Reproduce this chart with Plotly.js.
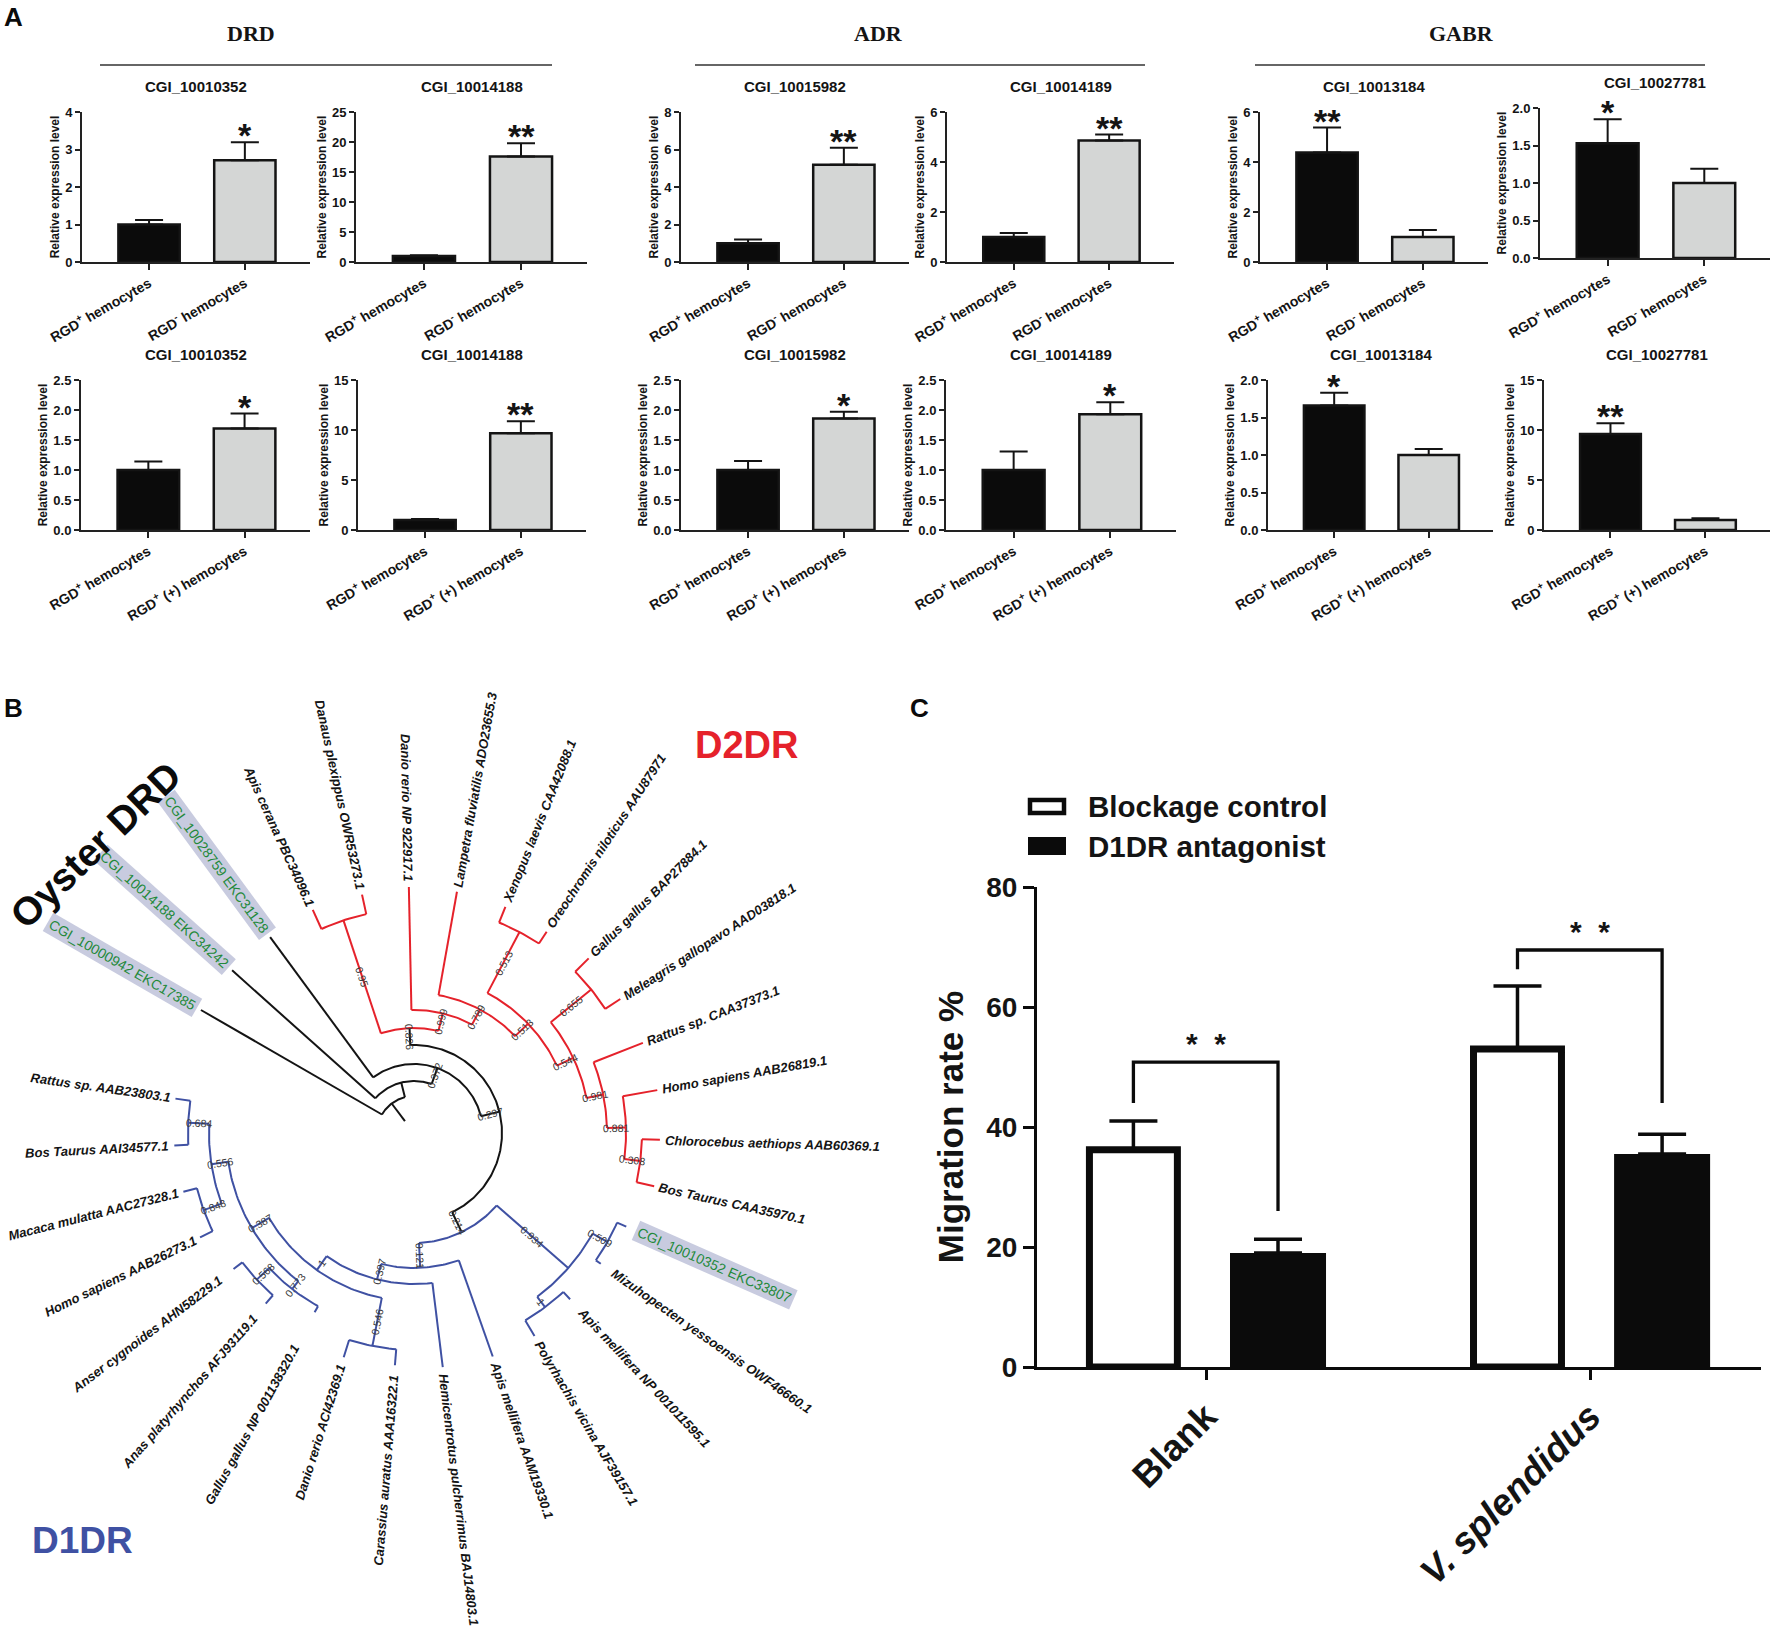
<!DOCTYPE html>
<html>
<head>
<meta charset="utf-8">
<script src="https://cdn.plot.ly/plotly-3.0.1.min.js"></script>
<style>html,body{margin:0;padding:0;background:#fff;}</style>
</head>
<body>
<div id="chart" style="width:1772px;height:1641px"></div>
<script>
// ======================= DATA =======================
// ---- Panel A ----
const receptorGroups = ['DRD', 'ADR', 'GABR'];
const geneIds = ['CGI_10010352', 'CGI_10014188', 'CGI_10015982', 'CGI_10014189', 'CGI_10013184', 'CGI_10027781'];
const yAxisLabel = 'Relative expression level';
const row1Categories = ['RGD<sup>+</sup> hemocytes', 'RGD<sup>-</sup> hemocytes'];
const row2Categories = ['RGD<sup>+</sup> hemocytes', 'RGD<sup>+</sup> (+) hemocytes'];
const row1Means  = [[1.0, 2.71], [1.0, 17.6], [1.0, 5.18], [1.0, 4.86], [4.38, 1.0], [1.53, 1.0]];
const row1Errors = [[0.12, 0.48], [0.12, 2.2], [0.2, 0.92], [0.16, 0.24], [1.0, 0.28], [0.32, 0.19]];
const row1Stars  = [['', '*'], ['', '**'], ['', '**'], ['', '**'], ['**', ''], ['*', '']];
const row1YMax   = [4, 25, 8, 6, 6, 2.0];
const row1YStep  = [1, 5, 2, 2, 2, 0.5];
const row2Means  = [[1.0, 1.69], [1.0, 9.67], [1.0, 1.86], [1.0, 1.93], [1.66, 1.0], [9.6, 1.0]];
const row2Errors = [[0.14, 0.25], [0.1, 1.2], [0.15, 0.11], [0.31, 0.2], [0.17, 0.08], [1.07, 0.17]];
const row2Stars  = [['', '*'], ['', '**'], ['', '*'], ['', '*'], ['*', ''], ['**', '']];
const row2YMax   = [2.5, 15, 2.5, 2.5, 2.0, 15];
const row2YStep  = [0.5, 5, 0.5, 0.5, 0.5, 5];

// ---- Panel C ----
const migrationCategories = ['Blank', '<i>V. splendidus</i>'];
const seriesNames = ['Blockage control', 'D1DR antagonist'];
const controlMeans = [36.2, 53.0];
const controlErrors = [4.8, 10.5];
const antagonistMeans = [19.0, 35.5];
const antagonistErrors = [2.3, 3.3];
const sigLabels = ['*\u00a0\u00a0*', '*\u00a0\u00a0*'];
const sigBracketTop = [50.8, 69.5];
const sigLeftEnd = [44.0, 66.3];
const sigRightEnd = [26.0, 44.0];
const migrationTitle = 'Migration rate %';

// ---- Panel B (tree) ----
const nodeIds      = ['root','n1','n372','n297','n826','n95','n999','n789','n513b','n513a','n544','n655','n981','n881','n308',
                      'n214','n121','n397','nV1','n546','n387','n556','n684','n848','n773','n568','n934','n509','nI1'];
const nodeParents  = [null,'root','n1','n372','n297','n826','n826','n999','n789','n513b','n513b','n544','n544','n981','n881',
                      'n297','n214','n121','n397','nV1','nV1','n387','n556','n556','n387','n773','n214','n934','n934'];
const nodeRadius   = [37,52,69,88,105,224,123,140,158,227,176,228,193,212,228,
                      110,135,151,168,217,188,205,226,224,198,215,205,222,218];
const nodeSupport  = ['','','0.372','0.297','0.826','0.95','0.999','0.789','0.513','0.513','0.544','0.655','0.981','0.881','0.308',
                      '0.214','0.121','0.397','1','0.546','0.387','0.556','0.684','0.848','0.773','0.568','0.934','0.509','1'];
const nodeClade    = ['oyster','oyster','oyster','oyster',
                      'D2DR','D2DR','D2DR','D2DR','D2DR','D2DR','D2DR','D2DR','D2DR','D2DR','D2DR',
                      'D1DR','D1DR','D1DR','D1DR','D1DR','D1DR','D1DR','D1DR','D1DR','D1DR','D1DR','D1DR','D1DR','D1DR'];
const rootStubStart = 15;
const leafNames = ['CGI_10000942 EKC17385','CGI_10014188 EKC34242','CGI_10028759 EKC31128',
  'Apis cerana PBC34096.1','Danaus plexippus OWR53273.1','Danio rerio NP 922917.1','Lampetra fluviatilis ADO23655.3',
  'Xenopus laevis CAA42088.1','Oreochromis niloticus AAU87971','Gallus gallus BAP27884.1','Meleagris gallopavo AAD03818.1',
  'Rattus sp. CAA37373.1','Homo sapiens AAB26819.1','Chlorocebus aethiops AAB60369.1','Bos Taurus CAA35970.1',
  'CGI_10010352 EKC33807','Mizuhopecten yessoensis OWF46660.1','Apis mellifera NP 001011595.1','Polyrhachis vicina AJF39157.1',
  'Apis mellifera AAM19330.1','Hemicentrotus pulcherrimus BAJ14803.1','Carassius auratus AAA16322.1','Danio rerio ACI42369.1',
  'Gallus gallus NP 001138320.1','Anas platyrhynchos AFJ93119.1','Anser cygnoides AHN58229.1','Homo sapiens AAB26273.1',
  'Macaca mulatta AAC27328.1','Bos Taurus AAI34577.1','Rattus sp. AAB23803.1'];
const leafAngles = [150.0,138.2,126.3, 114.4,102.3,91.2,79.9,68.0,56.6,45.0,33.0,21.5,10.0,-1.6,-12.5,
  -23.8,-35.0,-46.8,-59.3,-70.6,-83.0,-94.7,-107.4,-119.0,-131.0,-143.0,-154.0,-165.7,-177.0,-188.2];
const leafTipRadius = [246,244,243, 245,244,246,245,244,241,247,246,246,247,246,246,
  232,228,228,236,237,236,233,235,205,226,226,238,238,240,241];
const leafParents = ['root','n1','n372', 'n95','n95','n999','n789','n513a','n513a','n655','n655','n981','n881','n308','n308',
  'n509','n509','nI1','nI1','n121','n397','n546','n546','n773','n568','n568','n848','n848','n684','n684'];
const leafHighlight = [1,1,1, 0,0,0,0,0,0,0,0,0,0,0,0, 1,0,0,0,0,0,0,0,0,0,0,0,0,0,0];
const cladeLabels = ['Oyster DRD', 'D2DR', 'D1DR'];

// ======================= STYLE / LAYOUT CONSTANTS =======================
const W = 1772, H = 1641;
const SANS = '"Liberation Sans", Arial, Helvetica, sans-serif';
const SERIF = '"Liberation Serif", "Times New Roman", serif';
const INK = '#141414';
const cladeColor = {oyster: '#141414', D2DR: '#e5222b', D1DR: '#3f51a3'};
const px = v => v / W;
const py = v => 1 - v / H;

const traces = [];
const layout = {
  width: W, height: H, margin: {l: 0, r: 0, t: 0, b: 0},
  paper_bgcolor: '#ffffff', plot_bgcolor: 'rgba(0,0,0,0)',
  showlegend: false, barmode: 'overlay',
  font: {family: SANS, color: INK},
  annotations: [], shapes: []
};
function ann(o) { layout.annotations.push(Object.assign({showarrow: false}, o)); }

// ======================= PANEL A =======================
const panelABoxes = [
  [82, 310, 112, 262], [356, 587, 112, 262], [681, 909, 112, 262], [947, 1174, 112, 262], [1260, 1488, 112, 262], [1540, 1770, 108, 258],
  [81, 310, 380, 530], [358, 586, 380, 530], [681, 909, 380, 530], [946, 1176, 380, 530], [1268, 1493, 380, 530], [1544, 1770, 380, 530]];
const panelATitleY = [87, 87, 87, 87, 87, 83, 355, 355, 355, 355, 355, 355];
const groupHeaderX = [251, 878, 1461];
const groupLineX = [[100, 552], [695, 1145], [1255, 1705]];

for (let i = 0; i < 12; i++) {
  const row = i < 6 ? 0 : 1, j = i % 6, k = i + 1;
  const means = row ? row2Means[j] : row1Means[j];
  const errs = row ? row2Errors[j] : row1Errors[j];
  const stars = row ? row2Stars[j] : row1Stars[j];
  const ymax = row ? row2YMax[j] : row1YMax[j];
  const step = row ? row2YStep[j] : row1YStep[j];
  const cats = row ? row2Categories : row1Categories;
  const [l, r, t, b] = panelABoxes[i];
  const xa = 'x' + k, ya = 'y' + k;
  traces.push({
    type: 'bar', x: [0, 1], y: means, width: 0.64, xaxis: xa, yaxis: ya, hoverinfo: 'skip',
    marker: {color: ['#0b0b0b', '#d4d6d5'], line: {color: INK, width: 2.5}},
    error_y: {type: 'data', symmetric: false, array: errs, arrayminus: [0, 0], color: INK, thickness: 2, width: 14}
  });
  layout['xaxis' + k] = {
    domain: [px(l), px(r)], anchor: ya, range: [-0.7, 1.68], fixedrange: true,
    showline: true, linecolor: '#222', linewidth: 2, showgrid: false, zeroline: false,
    ticks: 'outside', ticklen: 6, tickwidth: 2, tickcolor: '#222',
    tickvals: [0, 1], ticktext: cats, tickangle: -30,
    tickfont: {family: SANS, size: 14, weight: 'bold', color: INK}
  };
  layout['yaxis' + k] = {
    domain: [py(b), py(t)], anchor: xa, range: [0, ymax], fixedrange: true,
    showline: true, linecolor: '#222', linewidth: 2, showgrid: false, zeroline: false,
    ticks: 'outside', ticklen: 5, tickwidth: 2, tickcolor: '#222',
    tick0: 0, dtick: step, tickformat: step < 1 ? '.1f' : '',
    tickfont: {family: SANS, size: 13, weight: 'bold', color: INK},
    title: {text: yAxisLabel, font: {family: SANS, size: 12, weight: 'bold', color: INK}, standoff: 3}
  };
  ann({xref: 'paper', yref: 'paper', x: px((l + r) / 2), y: py(panelATitleY[i]), xanchor: 'center', yanchor: 'middle',
       text: geneIds[j], font: {family: SANS, size: 15, weight: 'bold', color: INK}});
  stars.forEach((s, q) => {
    if (!s) return;
    ann({xref: xa, yref: ya, x: q, y: means[q] + errs[q], xanchor: 'center', yanchor: 'middle', yshift: 7,
         text: s, font: {family: SANS, size: 34, weight: 'bold', color: INK}});
  });
}
receptorGroups.forEach((g, i) => {
  ann({xref: 'paper', yref: 'paper', x: px(groupHeaderX[i]), y: py(33), xanchor: 'center', yanchor: 'middle',
       text: g, font: {family: SERIF, size: 22, weight: 'bold', color: INK}});
  layout.shapes.push({type: 'line', xref: 'paper', yref: 'paper', x0: px(groupLineX[i][0]), x1: px(groupLineX[i][1]),
       y0: py(65), y1: py(65), line: {color: '#333', width: 1.5}});
});

// ======================= PANEL C =======================
const cWhiteCenter = -0.189, cBlackCenter = 0.1875;
const cWhiteWidth = 0.229, cBlackWidth = 0.25;
traces.push({
  type: 'bar', name: seriesNames[0], x: [0, 1], y: controlMeans, xaxis: 'x13', yaxis: 'y13', hoverinfo: 'skip',
  width: cWhiteWidth, offset: cWhiteCenter - cWhiteWidth / 2,
  marker: {color: '#ffffff', line: {color: '#0b0b0b', width: 7}},
  error_y: {type: 'data', symmetric: false, array: controlErrors, arrayminus: [0, 0], color: '#0b0b0b', thickness: 3.5, width: 24}
});
traces.push({
  type: 'bar', name: seriesNames[1], x: [0, 1], y: antagonistMeans, xaxis: 'x13', yaxis: 'y13', hoverinfo: 'skip',
  width: cBlackWidth, offset: cBlackCenter - cBlackWidth / 2,
  marker: {color: '#0b0b0b', line: {width: 0}},
  error_y: {type: 'data', symmetric: false, array: antagonistErrors, arrayminus: [0, 0], color: '#0b0b0b', thickness: 3.5, width: 24}
});
const bx = [], by = [];
[0, 1].forEach(c => {
  bx.push(c + cWhiteCenter, c + cWhiteCenter, c + cBlackCenter, c + cBlackCenter, null);
  by.push(sigLeftEnd[c], sigBracketTop[c], sigBracketTop[c], sigRightEnd[c], null);
  ann({xref: 'x13', yref: 'y13', x: c, y: sigBracketTop[c], xanchor: 'center', yanchor: 'bottom', yshift: 0,
       text: sigLabels[c], font: {family: SANS, size: 30, weight: 'bold', color: INK}});
});
traces.push({type: 'scatter', mode: 'lines', x: bx, y: by, xaxis: 'x13', yaxis: 'y13', hoverinfo: 'skip',
             line: {color: '#0b0b0b', width: 3.3}});
layout.xaxis13 = {
  domain: [px(1037), px(1761)], anchor: 'y13', range: [-0.44, 1.445], fixedrange: true,
  showline: true, linecolor: '#0b0b0b', linewidth: 3, showgrid: false, zeroline: false,
  ticks: 'outside', ticklen: 10, tickwidth: 3, tickcolor: '#0b0b0b',
  tickvals: [0, 1], ticktext: migrationCategories, tickangle: -45,
  tickfont: {family: SANS, size: 37, weight: 'bold', color: INK}
};
layout.yaxis13 = {
  domain: [py(1367), py(887)], anchor: 'x13', range: [0, 80], fixedrange: true,
  showline: true, linecolor: '#0b0b0b', linewidth: 3, showgrid: false, zeroline: false,
  ticks: 'outside', ticklen: 11, tickwidth: 3, tickcolor: '#0b0b0b', tick0: 0, dtick: 20,
  tickfont: {family: SANS, size: 28, weight: 'bold', color: INK},
  title: {text: migrationTitle, font: {family: SANS, size: 35, weight: 'bold', color: INK}, standoff: 12}
};
layout.shapes.push({type: 'rect', xref: 'paper', yref: 'paper', x0: px(1030), x1: px(1064), y0: py(813), y1: py(800),
                    fillcolor: '#ffffff', line: {color: '#0b0b0b', width: 4.5}});
layout.shapes.push({type: 'rect', xref: 'paper', yref: 'paper', x0: px(1028), x1: px(1066), y0: py(855), y1: py(837),
                    fillcolor: '#0b0b0b', line: {color: '#0b0b0b', width: 0}});
ann({xref: 'paper', yref: 'paper', x: px(1086), y: py(806), xanchor: 'left', yanchor: 'middle', text: seriesNames[0],
     font: {family: SANS, size: 29.5, weight: 'bold', color: INK}});
ann({xref: 'paper', yref: 'paper', x: px(1086), y: py(846), xanchor: 'left', yanchor: 'middle', text: seriesNames[1],
     font: {family: SANS, size: 29.5, weight: 'bold', color: INK}});

// ======================= PANEL B (circular tree) =======================
const treeCx = 414, treeCy = 1133;
layout.xaxis14 = {domain: [0, px(900)], anchor: 'y14', range: [-treeCx, 900 - treeCx], visible: false, fixedrange: true};
layout.yaxis14 = {domain: [0, py(680)], anchor: 'x14', range: [treeCy - H, treeCy - 680], visible: false, fixedrange: true};

const idx = {}; nodeIds.forEach((id, i) => idx[id] = i);
const childAng = {}; nodeIds.forEach(id => childAng[id] = []);
const nodeAngle = {};
function angleOf(id) {
  if (id in nodeAngle) return nodeAngle[id];
  const kids = leafAngles.filter((a, i) => leafParents[i] === id);
  nodeIds.forEach((nid, i) => { if (nodeParents[i] === id) kids.push(angleOf(nid)); });
  childAng[id] = kids;
  nodeAngle[id] = (Math.min(...kids) + Math.max(...kids)) / 2;
  return nodeAngle[id];
}
nodeIds.forEach(angleOf);

const segs = {oyster: {x: [], y: []}, D2DR: {x: [], y: []}, D1DR: {x: [], y: []}};
const rad = d => d * Math.PI / 180;
function radial(cl, r0, r1, a) {
  segs[cl].x.push(r0 * Math.cos(rad(a)), r1 * Math.cos(rad(a)), null);
  segs[cl].y.push(r0 * Math.sin(rad(a)), r1 * Math.sin(rad(a)), null);
}
function arc(cl, r, a0, a1) {
  const n = Math.max(2, Math.ceil(Math.abs(a1 - a0)));
  for (let s = 0; s <= n; s++) {
    const a = a0 + (a1 - a0) * s / n;
    segs[cl].x.push(r * Math.cos(rad(a))); segs[cl].y.push(r * Math.sin(rad(a)));
  }
  segs[cl].x.push(null); segs[cl].y.push(null);
}
nodeIds.forEach((id, i) => {
  const cl = nodeClade[i], r = nodeRadius[i], a = nodeAngle[id];
  const p = nodeParents[i];
  if (p === null) {
    radial('oyster', rootStubStart, r, a);
  } else {
    const pc = nodeClade[idx[p]];
    radial(pc === cl ? cl : 'oyster', nodeRadius[idx[p]], r, a);
  }
  arc(cl, r, Math.min(...childAng[id]), Math.max(...childAng[id]));
});
leafNames.forEach((nm, i) => {
  const p = idx[leafParents[i]];
  radial(nodeClade[p], nodeRadius[p], leafTipRadius[i], leafAngles[i]);
});
Object.keys(segs).forEach(cl => {
  traces.push({type: 'scatter', mode: 'lines', x: segs[cl].x, y: segs[cl].y, xaxis: 'x14', yaxis: 'y14',
               hoverinfo: 'skip', line: {color: cladeColor[cl], width: 2}});
});

const cv = document.createElement('canvas').getContext('2d');
function textWidth(t, font) { cv.font = font; return cv.measureText(t).width; }
function orient(a) {
  let n = ((a % 360) + 540) % 360 - 180;
  if (Math.cos(rad(n)) >= 0) return -n;
  let t = 180 - n; t = ((t % 360) + 540) % 360 - 180; return t;
}
const LEAF_FONT = {family: SANS, size: 13, weight: 'bold', style: 'italic', color: INK};
const HL_FONT = {family: SANS, size: 14, color: '#23893a'};
const labelAlignRadius = 238, labelGap = 4;
leafNames.forEach((nm, i) => {
  const hl = leafHighlight[i] === 1;
  const f = hl ? HL_FONT : LEAF_FONT;
  const w = textWidth(nm, (hl ? '' : 'italic bold ') + f.size + 'px "Liberation Sans"') + (hl ? 6 : 2);
  const r0 = Math.max(leafTipRadius[i], labelAlignRadius) + labelGap;
  const rc = r0 + w / 2;
  const a = leafAngles[i];
  const o = {xref: 'x14', yref: 'y14', x: rc * Math.cos(rad(a)), y: rc * Math.sin(rad(a)),
             xanchor: 'center', yanchor: 'middle', textangle: orient(a), text: nm, font: f};
  if (hl) { o.bgcolor = '#c8cbdf'; o.borderpad = 2; }
  ann(o);
});
nodeIds.forEach((id, i) => {
  if (!nodeSupport[i]) return;
  const p = nodeParents[i];
  const rm = (nodeRadius[idx[p]] + nodeRadius[i]) / 2;
  const a = nodeAngle[id];
  ann({xref: 'x14', yref: 'y14', x: rm * Math.cos(rad(a)), y: rm * Math.sin(rad(a)), xanchor: 'center', yanchor: 'middle',
       textangle: orient(a), text: nodeSupport[i], font: {family: SANS, size: 10.5, color: '#3a3a3a'}});
});
ann({xref: 'paper', yref: 'paper', x: px(95), y: py(845), xanchor: 'center', yanchor: 'middle', textangle: -44,
     text: cladeLabels[0], font: {family: SANS, size: 39, weight: 'bold', color: '#0b0b0b'}});
ann({xref: 'paper', yref: 'paper', x: px(746), y: py(745), xanchor: 'center', yanchor: 'middle',
     text: cladeLabels[1], font: {family: SANS, size: 38, weight: 'bold', color: cladeColor.D2DR}});
ann({xref: 'paper', yref: 'paper', x: px(82), y: py(1540), xanchor: 'center', yanchor: 'middle',
     text: cladeLabels[2], font: {family: SANS, size: 37, weight: 'bold', color: cladeColor.D1DR}});

[['A', 2, 17], ['B', 2, 708], ['C', 908, 708]].forEach(([t, x, y]) => {
  ann({xref: 'paper', yref: 'paper', x: px(x), y: py(y), xanchor: 'left', yanchor: 'middle', text: t,
       font: {family: SANS, size: 26, weight: 'bold', color: '#0b0b0b'}});
});

Plotly.newPlot('chart', traces, layout, {staticPlot: true, displayModeBar: false});
</script>
</body>
</html>
